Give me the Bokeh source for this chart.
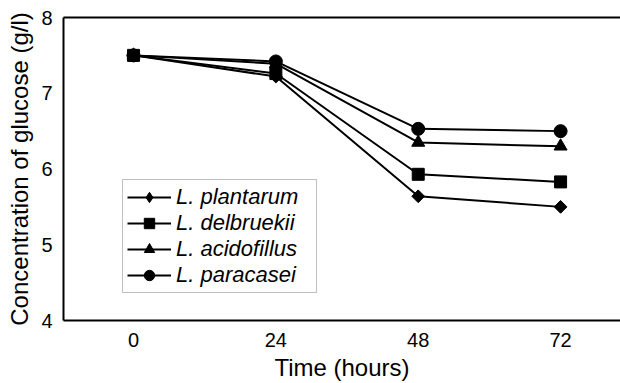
import math
from bokeh.plotting import figure
from bokeh.models import Range1d, FixedTicker, LinearAxis, Legend, LegendItem
from bokeh.embed import file_html
from bokeh.resources import INLINE

hours = [0, 24, 48, 72]
plantarum = [7.50, 7.22, 5.64, 5.50]
delbruekii = [7.50, 7.26, 5.93, 5.83]
acidofillus = [7.50, 7.39, 6.35, 6.30]
paracasei = [7.50, 7.42, 6.53, 6.50]
names = ["L. plantarum", "L. delbruekii", "L. acidofillus", "L. paracasei"]
y_ticks = [4, 5, 6, 7, 8]

FONT = "Liberation Sans"

p = figure(width=620, height=383, output_backend="svg", toolbar_location=None,
           x_range=Range1d(-11.8, 82.1), y_range=Range1d(4, 8),
           min_border_left=63, min_border_right=0, min_border_top=17, min_border_bottom=61,
           x_axis_location="below", y_axis_location="left")
p.outline_line_color = None
p.xgrid.visible = False
p.ygrid.visible = False
p.background_fill_color = "white"
p.border_fill_color = "white"

for ax in (p.xaxis[0], p.yaxis[0]):
    ax.axis_line_color = "black"
    ax.axis_line_width = 2
    ax.major_tick_line_color = None
    ax.minor_tick_line_color = None
    ax.major_label_text_font = FONT
    ax.major_label_text_font_size = "20px"
    ax.major_label_text_color = "black"
    ax.axis_label_text_font = FONT
    ax.axis_label_text_font_size = "24px"
    ax.axis_label_text_font_style = "normal"
    ax.axis_label_text_color = "black"

p.xaxis[0].ticker = FixedTicker(ticks=hours)
p.xaxis[0].axis_label = "Time (hours)"
p.xaxis[0].major_label_standoff = 6
p.xaxis[0].axis_label_standoff = 4
p.yaxis[0].ticker = FixedTicker(ticks=y_ticks)
p.yaxis[0].axis_label = "Concentration of glucose (g/l)"
p.yaxis[0].major_label_standoff = 5
p.yaxis[0].axis_label_standoff = 5

top = LinearAxis(ticker=FixedTicker(ticks=[]), axis_line_color="black", axis_line_width=2,
                 major_tick_line_color=None, minor_tick_line_color=None)
p.add_layout(top, "above")

series = [plantarum, delbruekii, acidofillus, paracasei]
markers = [("square", math.pi / 4, 9), ("square", 0, 12), ("triangle", 0, 13), ("circle", 0, 13)]
items = []
for i, (name, ys, (mk, ang, sz)) in enumerate(zip(names, series, markers)):
    r1 = p.line(hours, ys, line_color="black", line_width=2)
    r2 = p.scatter(hours, ys, marker=mk, angle=ang, size=sz, fill_color="black", line_color="black")
    if i == 0:
        # legend-only diamond glyph (plot shows the rotated square)
        r3 = p.scatter(hours, ys, marker="diamond", size=14, fill_color="black",
                       line_color="black", visible=False)
        items.append(LegendItem(label=name, renderers=[r1, r3]))
    else:
        items.append(LegendItem(label=name, renderers=[r1, r2]))

legend = Legend(items=items, location=(59, 27), orientation="vertical",
                label_text_font=FONT, label_text_font_size="22px", label_text_font_style="italic",
                label_text_color="black", glyph_width=44, glyph_height=26, label_height=26,
                label_width=136, label_standoff=5, spacing=0, padding=4, margin=0,
                border_line_color="#808080", border_line_width=1,
                background_fill_color="white", background_fill_alpha=1)
p.add_layout(legend, "center")

open("out.html", "w").write(file_html(p, INLINE))
